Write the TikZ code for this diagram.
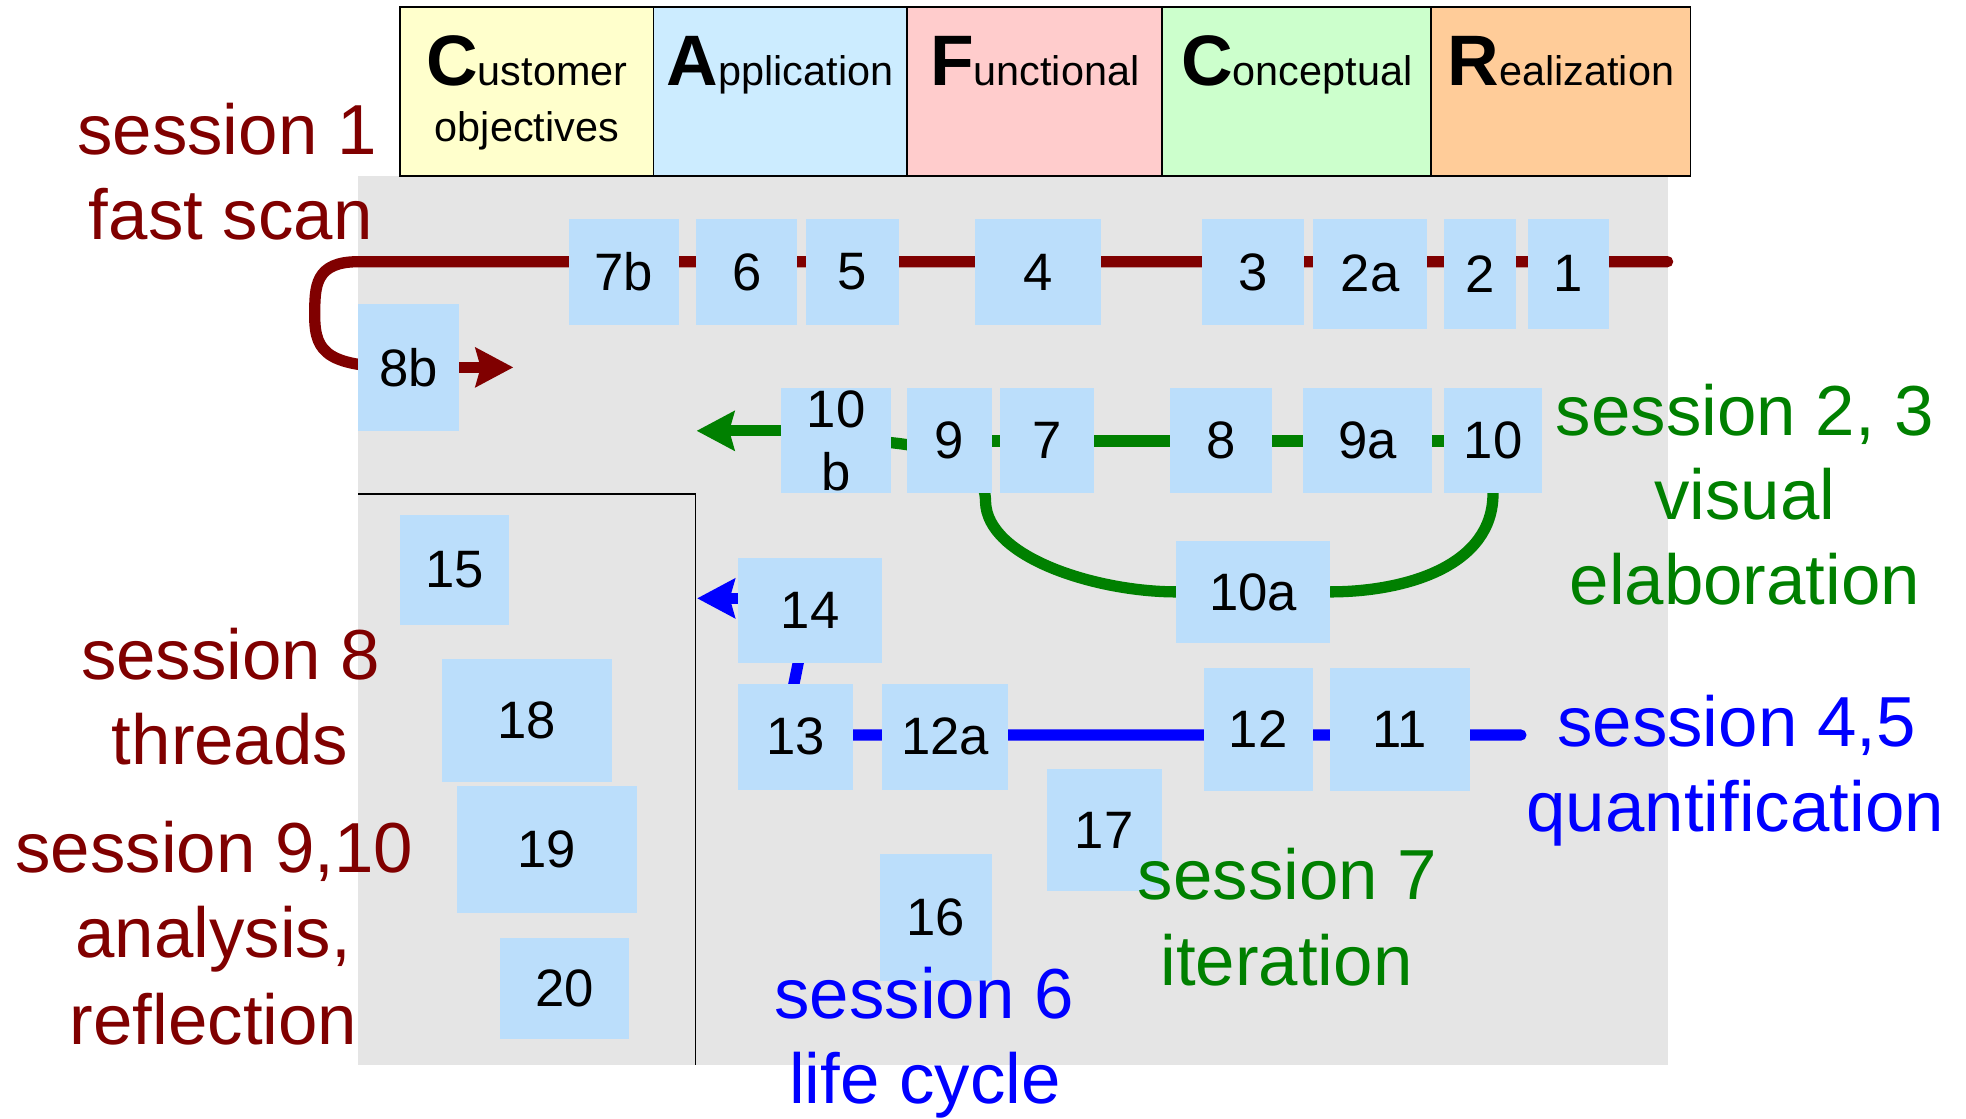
\documentclass[tikz,border=0pt]{standalone}
\usepackage{fontspec}
\setmainfont{Liberation Sans}
\usetikzlibrary{arrows.meta}
\definecolor{cdred}{RGB}{128,0,0}
\definecolor{cdgreen}{RGB}{0,128,0}
\definecolor{cdblue}{RGB}{0,0,255}
\definecolor{boxblue}{RGB}{187,222,251}
\definecolor{hdyellow}{RGB}{255,255,204}
\definecolor{hdblue}{RGB}{204,236,255}
\definecolor{hdpink}{RGB}{255,204,204}
\definecolor{hdgreen}{RGB}{204,255,204}
\definecolor{hdorange}{RGB}{255,204,153}
\definecolor{bggray}{RGB}{229,229,229}
\pgfdeclarelayer{back}
\pgfdeclarelayer{lines}
\pgfsetlayers{back,lines,main}
\tikzset{
  blk/.style={fill=boxblue, inner sep=0pt, outer sep=0pt, align=center, font=\fontsize{42}{50}\selectfont},
  hdbox/.style={draw=black, line width=1.5pt, inner sep=0pt, outer sep=0pt},
  hdtxt/.style={anchor=base, inner sep=0pt, font=\fontsize{33}{40}\selectfont},
  sess/.style={anchor=base, inner sep=0pt, font=\fontsize{56.5}{66}\selectfont},
  thread/.style={line width=9pt, line cap=round},
  tip/.style={-{Stealth[length=30pt,width=31pt,inset=4pt]}},
}
\newcommand\mkbox[6]{\node[blk, minimum width={(#4-#2)*1pt}, minimum height={(#5-#3)*1pt}] (#1) at ({(#2+#4)/2},{(#3+#5)/2}) {#6};}
\newcommand\mkhead[6]{\node[hdbox, fill=#6, minimum width={(#4-#2)*1pt}, minimum height={(#5-#3)*1pt}] (#1) at ({(#2+#4)/2},{(#3+#5)/2}) {};}
\newcommand\capl[1]{{\fontsize{57}{57}\selectfont\bfseries #1}}
\begin{document}
\begin{tikzpicture}[x=1pt,y=-1pt]
\useasboundingbox (0,0) rectangle (1568,892);
% background
\begin{pgfonlayer}{back}
  \fill[bggray] (285.7,140) rectangle (1330.2,849.5);
  \draw[line width=1.2pt] (285.7,394) -- (554.7,394) -- (554.7,849.5);
\end{pgfonlayer}
% header
\mkhead{hC}{319.1}{5.9}{521.2}{140.1}{hdyellow}
\mkhead{hA}{521.2}{5.9}{723.3}{140.1}{hdblue}
\mkhead{hF}{723.3}{5.9}{927.1}{140.1}{hdpink}
\mkhead{hCo}{927.1}{5.9}{1141.4}{140.1}{hdgreen}
\mkhead{hR}{1141.4}{5.9}{1348.3}{140.1}{hdorange}
\node[hdtxt] (tC) at (420.15,67.8) {\capl{C}ustomer};
\node[hdtxt] (tC2) at (420.15,113) {objectives};
\node[hdtxt] (tA) at (622.25,67.8) {\capl{A}pplication};
\node[hdtxt] (tF) at (825.2,67.8) {\capl{F}unctional};
\node[hdtxt] (tCo) at (1034.25,67.8) {\capl{C}onceptual};
\node[hdtxt] (tR) at (1244.85,67.8) {\capl{R}ealization};
% boxes row 1
\mkbox{7b}{453.6}{174.7}{541.2}{259.2}{7b}
\mkbox{6}{555.4}{174.7}{635.9}{259.2}{6}
\mkbox{5}{643}{174.7}{717}{259.2}{5}
\mkbox{4}{777.6}{174.7}{878}{259.2}{4}
\mkbox{3}{959}{174.7}{1040.4}{259.2}{3}
\mkbox{2a}{1047.5}{174.7}{1138}{262}{2a}
\mkbox{2}{1152}{174.7}{1209}{262}{2}
\mkbox{1}{1219}{174.7}{1283}{262}{1}
\mkbox{8b}{285.6}{242.5}{366}{343.5}{8b}
% row 2
\mkbox{10b}{623}{309.7}{710.6}{393.3}{10\\b}
\mkbox{9}{723.4}{309.7}{791}{393.3}{9}
\mkbox{7}{797.6}{309.7}{872.4}{393.3}{7}
\mkbox{8}{932.8}{309.7}{1014.6}{393.3}{8}
\mkbox{9a}{1039}{309.7}{1142}{393.3}{9a}
\mkbox{10}{1151.5}{309.7}{1230}{393.3}{10}
\mkbox{10a}{938}{431.5}{1061}{512.6}{10a}
% row 3
\mkbox{14}{588.6}{445}{703.5}{529}{14}
\mkbox{13}{588.6}{545.5}{680}{629.8}{13}
\mkbox{12a}{703.5}{545.5}{804.3}{629.8}{12a}
\mkbox{12}{960}{532.8}{1047}{630.6}{12}
\mkbox{11}{1060.8}{532.8}{1172}{630.6}{11}
\mkbox{17}{834.8}{613.4}{926.4}{711}{17}
\mkbox{16}{702}{681}{791}{782}{16}
% left frame
\mkbox{15}{319}{410.8}{406}{498.2}{15}
\mkbox{18}{352.5}{525.6}{487.8}{623.3}{18}
\mkbox{19}{364.6}{627}{507.7}{728}{19}
\mkbox{20}{398.8}{748}{501.3}{829}{20}
% threads
\begin{pgfonlayer}{lines}
  \coordinate (rE) at (1330,208.7);
  \coordinate (rL) at (286,208.7);
  \coordinate (rC) at (251,252);
  \coordinate (rT) at (409.4,293);
  \draw[thread, cdred] (rE) -- (rL) .. controls (251,208.7) and (251,228) .. (rC)
       .. controls (251,282) and (262,293) .. (8b.center);
  \draw[thread, cdred, tip] (8b.center) -- (rT);
  \coordinate (gY) at (0,351.7);
  \coordinate (gD) at (786,400);
  \coordinate (gT) at (555.6,343.6);
  \draw[thread, cdgreen] (10.center |- gY) -- (9.center |- gY);
  \draw[thread, cdgreen] (10b.center) .. controls (740,350) and (786,366) .. (gD)
       .. controls (787,445) and (875,472) .. (10a.west);
  \draw[thread, cdgreen] (10a.east) .. controls (1120,472) and (1191,452) .. (10.south) -- (10.center);
  \draw[thread, cdgreen, tip] (10b.center |- gT) -- (gT);
  \coordinate (bE) at (1213,586.2);
  \coordinate (b1) at (625,586.2);
  \coordinate (b2) at (645,487);
  \coordinate (bT) at (556,477.2);
  \draw[thread, cdblue] (bE) -- (b1) -- (b2);
  \draw[thread, cdblue, tip] (14.center |- bT) -- (bT);
\end{pgfonlayer}
% session labels
\node[sess, text=cdred] (s1a) at (181,123.6) {session 1};
\node[sess, text=cdred] (s1b) at (184,191.4) {fast scan};
\node[sess, text=cdred] (s8a) at (184,542) {session 8};
\node[sess, text=cdred] (s8b) at (183.5,610) {threads};
\node[sess, text=cdred] (s9a) at (171,696) {session 9,10};
\node[sess, text=cdred] (s9b) at (170,763.8) {analysis,};
\node[sess, text=cdred] (s9c) at (170.3,832.7) {reflection};
\node[sess, text=cdgreen] (s2a) at (1391.7,347) {session 2, 3};
\node[sess, text=cdgreen] (s2b) at (1391.7,414.7) {visual};
\node[sess, text=cdgreen] (s2c) at (1391.7,482.5) {elaboration};
\node[sess, text=cdgreen] (s7a) at (1026.8,717) {session 7};
\node[sess, text=cdgreen] (s7b) at (1026,785.6) {iteration};
\node[sess, text=cdblue] (s4a) at (1384.9,595.5) {session 4,5};
\node[sess, text=cdblue] (s4b) at (1384,663.3) {quantification};
\node[sess, text=cdblue] (s6a) at (737,812) {session 6};
\node[sess, text=cdblue] (s6b) at (737.8,880) {life cycle};
\end{tikzpicture}
\end{document}
